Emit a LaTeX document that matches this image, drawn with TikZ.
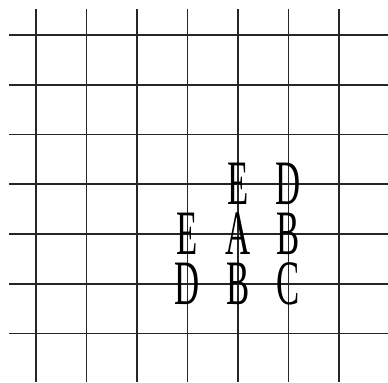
\documentclass[tikz,border=0pt]{standalone}
\usepackage{fontspec}
\setmainfont{Liberation Serif}
\tikzset{
  gridline/.style={line width=0.9pt,black!85},
  letter/.style={inner sep=0pt,xscale=0.55,font=\fontsize{36}{36}\selectfont}
}
\begin{document}
\begin{tikzpicture}[x=0.2mm,y=0.2mm]
    \useasboundingbox (0,0) rectangle (388,382);
    % grid
    \foreach \i in {0,...,6} {
        \coordinate (top\i) at ({36+50.5*\i},373);
        \coordinate (bot\i) at ({36+50.5*\i},0);
        \draw[gridline] (top\i) -- (bot\i);
        \coordinate (left\i) at (9,{347-49.75*\i});
        \coordinate (right\i) at (388,{347-49.75*\i});
        \draw[gridline] (left\i) -- (right\i);
    }
    % letters on the crossings
    \node[letter] (e1) at (238,198) {E};
    \node[letter] (d1) at (288.5,198) {D};
    \node[letter] (e2) at (187.5,148) {E};
    \node[letter] (a)  at (238,148) {A};
    \node[letter] (b1) at (288.5,148) {B};
    \node[letter] (d2) at (187.5,98) {D};
    \node[letter] (b2) at (238,98) {B};
    \node[letter] (c)  at (288.5,98) {C};
\end{tikzpicture}
\end{document}
